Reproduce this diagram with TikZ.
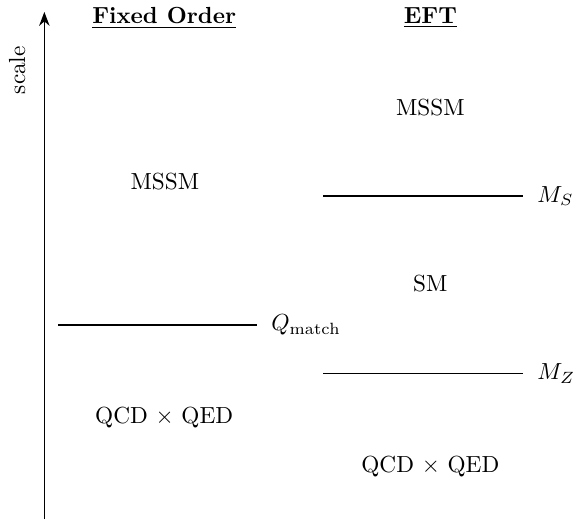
\documentclass[tikz,border=0pt]{standalone}
\usepackage{amsmath}
\usepackage{tikz}
\usetikzlibrary{positioning,arrows,arrows.meta}

\begin{document}
\begin{tikzpicture}[
  header/.style={font=\bfseries,inner sep=2pt},
  theory/.style={inner sep=2pt,align=center},
  level/.style={semithick},
  levellabel/.style={anchor=west,inner sep=0pt,xshift=0.21cm},
  axis/.style={->,>={Stealth[length=6pt,width=4.5pt]},semithick},
]
\useasboundingbox (0,0) rectangle (8.73,7.84);

% Scale axis
\coordinate (axbot) at (0.67,0);
\coordinate (axtop) at (0.67,7.66);
\draw[axis] (axbot) -- (axtop);
\node[rotate=90] (scale) at (0.26,6.78) {scale};

% Headers
\node[header] (fixed) at (2.48,7.57) {\underline{Fixed Order}};
\node[header] (eft) at (6.50,7.57) {\underline{EFT}};

% Fixed order side
\node[theory] (mssmfo) at (2.49,5.10) {MSSM};
\coordinate (qmL) at (0.88,2.93);
\coordinate (qmR) at (3.88,2.93);
\node[levellabel] (qmatch) at (qmR) {$Q_{\text{match}}$};
\draw[level] (qmL) -- (qmR);
\node[theory] (qcdfo) at (2.48,1.54) {QCD $\times$ QED};

% EFT side
\node[theory] (mssmeft) at (6.50,6.22) {MSSM};
\coordinate (msL) at (4.88,4.88);
\coordinate (msR) at (7.90,4.88);
\node[levellabel] (ms) at (msR) {$M_S$};
\draw[level] (msL) -- (msR);
\node[theory] (sm) at (6.50,3.55) {SM};
\coordinate (mzL) at (4.88,2.20);
\coordinate (mzR) at (7.90,2.20);
\node[levellabel] (mz) at (mzR) {$M_Z$};
\draw[level] (mzL) -- (mzR);
\node[theory] (qcdeft) at (6.50,0.80) {QCD $\times$ QED};

\end{tikzpicture}
\end{document}
